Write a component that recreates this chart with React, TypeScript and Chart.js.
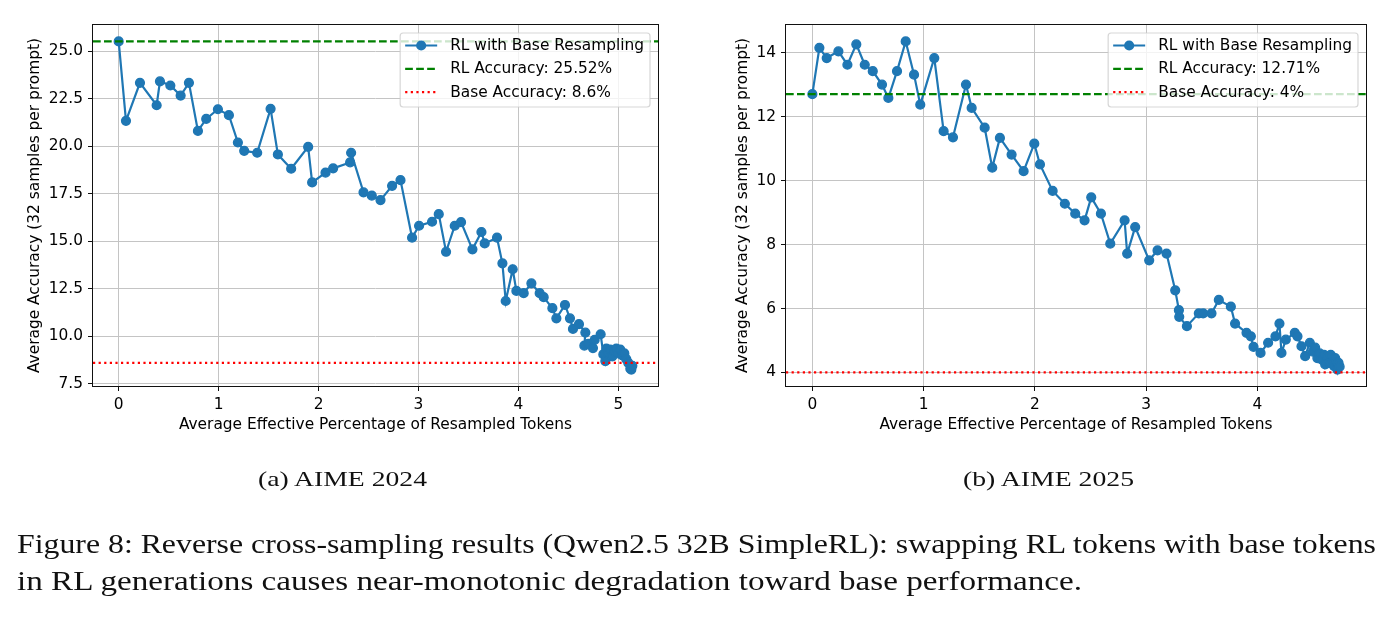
import { useEffect, useRef } from "react";
import { Chart, registerables } from "chart.js";

Chart.register(...registerables);

const SERIES_LABEL = "RL with Base Resampling";
const X_TITLE = "Average Effective Percentage of Resampled Tokens";
const Y_TITLE = "Average Accuracy (32 samples per prompt)";

// (a) AIME 2024
const X_2024 = [
  0, 0.073, 0.213, 0.38, 0.413, 0.517, 0.62, 0.703, 0.793, 0.876, 0.993, 1.103,
  1.193, 1.256, 1.386, 1.52, 1.593, 1.726, 1.896, 1.936, 2.07, 2.146, 2.316, 2.326,
  2.45, 2.533, 2.62, 2.736, 2.82, 2.936, 3.006, 3.136, 3.203, 3.276, 3.363, 3.426,
  3.54, 3.63, 3.663, 3.786, 3.84, 3.873, 3.943, 3.98, 4.053, 4.13, 4.213, 4.253,
  4.34, 4.38, 4.466, 4.516, 4.546, 4.606, 4.67, 4.66, 4.7, 4.746, 4.763, 4.823,
  4.85, 4.87, 4.88, 4.9, 4.92, 4.94, 4.96, 4.98, 5.0, 5.02, 5.04, 5.06, 5.08, 5.1,
  5.12, 5.13, 5.14,
];
const ACC_2024 = [
  25.52, 21.34, 23.34, 22.16, 23.42, 23.2, 22.67, 23.34, 20.81, 21.44, 21.95, 21.64,
  20.2, 19.76, 19.66, 21.97, 19.57, 18.82, 19.97, 18.1, 18.61, 18.84, 19.15, 19.66,
  17.58, 17.4, 17.17, 17.92, 18.22, 15.19, 15.82, 16.03, 16.43, 14.45, 15.82, 16.01,
  14.58, 15.49, 14.89, 15.19, 13.84, 11.86, 13.53, 12.39, 12.27, 12.79, 12.27, 12.06,
  11.48, 10.95, 11.65, 10.95, 10.39, 10.64, 10.2, 9.51, 9.6, 9.38, 9.81, 10.11,
  9.05, 8.7, 9.35, 9.1, 9.3, 8.95, 9.2, 9.35, 9.1, 9.3, 9.0, 9.1, 8.8, 8.6,
  8.3, 8.25, 8.45,
];
const RL_ACC_2024 = 25.52;
const BASE_ACC_2024 = 8.6;
const RL_LABEL_2024 = "RL Accuracy: 25.52%";
const BASE_LABEL_2024 = "Base Accuracy: 8.6%";
const X_TICKS_2024 = [0, 1, 2, 3, 4, 5];
const Y_TICKS_2024 = [7.5, 10, 12.5, 15, 17.5, 20, 22.5, 25];

// (b) AIME 2025
const X_2025 = [
  0, 0.063, 0.129, 0.234, 0.315, 0.395, 0.471, 0.543, 0.626, 0.683, 0.761, 0.839,
  0.914, 0.97, 1.096, 1.18, 1.264, 1.381, 1.432, 1.549, 1.617, 1.686, 1.791, 1.899,
  1.995, 2.046, 2.16, 2.27, 2.363, 2.447, 2.507, 2.594, 2.678, 2.807, 2.83, 2.902,
  3.028, 3.103, 3.184, 3.262, 3.295, 3.298, 3.367, 3.474, 3.513, 3.588, 3.654, 3.762,
  3.8, 3.903, 3.942, 3.966, 4.029, 4.097, 4.163, 4.199, 4.217, 4.256, 4.337, 4.361,
  4.397, 4.43, 4.472, 4.5, 4.52, 4.54, 4.56, 4.58, 4.6, 4.61, 4.63, 4.65, 4.66,
  4.68, 4.69, 4.7, 4.71, 4.72, 4.73, 4.74,
];
const ACC_2025 = [
  12.71, 14.16, 13.84, 14.05, 13.63, 14.27, 13.63, 13.43, 13.01, 12.59, 13.43, 14.36,
  13.32, 12.38, 13.84, 11.55, 11.36, 13.01, 12.28, 11.66, 10.41, 11.34, 10.82, 10.3,
  11.16, 10.51, 9.68, 9.28, 8.97, 8.76, 9.48, 8.97, 8.03, 8.76, 7.72, 8.55,
  7.51, 7.82, 7.72, 6.57, 5.95, 5.74, 5.45, 5.85, 5.85, 5.85, 6.27, 6.06,
  5.53, 5.24, 5.13, 4.8, 4.61, 4.93, 5.13, 5.53, 4.61, 5.03, 5.24, 5.13,
  4.82, 4.51, 4.93, 4.65, 4.78, 4.45, 4.6, 4.4, 4.55, 4.25, 4.5, 4.3, 4.55,
  4.35, 4.2, 4.45, 4.3, 4.09, 4.3, 4.18,
];
const RL_ACC_2025 = 12.71;
const BASE_ACC_2025 = 4;
const RL_LABEL_2025 = "RL Accuracy: 12.71%";
const BASE_LABEL_2025 = "Base Accuracy: 4%";
const X_TICKS_2025 = [0, 1, 2, 3, 4];
const Y_TICKS_2025 = [4, 6, 8, 10, 12, 14];

const SUBCAPTION_A = "(a) AIME 2024";
const SUBCAPTION_B = "(b) AIME 2025";
const CAPTION_LINE_1 =
  "Figure 8: Reverse cross-sampling results (Qwen2.5 32B SimpleRL): swapping RL tokens with base tokens";
const CAPTION_LINE_2 =
  "in RL generations causes near-monotonic degradation toward base performance.";

const BLUE = "#1f77b4";
const GREEN = "#008000";
const RED = "#ff0000";
const FONT = "'DejaVu Sans', sans-serif";
const FONT_SIZE = 15.4;

// autoscale with a 5% margin on each side
function paddedRange(values: number[]): [number, number] {
  const lo = Math.min(...values);
  const hi = Math.max(...values);
  const m = (hi - lo) * 0.05;
  return [lo - m, hi + m];
}

// axes frame + boxed legend in the upper-right corner of the plot area
const frameLegendPlugin = {
  id: "frameLegend",
  afterDraw(chart: any) {
    const { ctx, chartArea: a } = chart;
    ctx.save();
    ctx.strokeStyle = "#111";
    ctx.lineWidth = 1;
    ctx.setLineDash([]);
    ctx.strokeRect(a.left - 0.5, a.top - 0.5, a.right - a.left + 1, a.bottom - a.top + 1);

    const ds = chart.data.datasets as any[];
    ctx.font = `${FONT_SIZE}px ${FONT}`;
    const tw = Math.max(...ds.map((d) => ctx.measureText(d.label).width));
    const padL = 5;
    const hLen = 32;
    const hGap = 13;
    const padR = 6;
    const rowH = 23.3;
    const padT = 12.5;
    const w = padL + hLen + hGap + tw + padR;
    const h = 74;
    const x0 = a.right - 8 - w;
    const y0 = a.top + 8;
    ctx.beginPath();
    ctx.roundRect(x0, y0, w, h, 3);
    ctx.fillStyle = "rgba(255,255,255,0.8)";
    ctx.fill();
    ctx.strokeStyle = "rgba(204,204,204,0.8)";
    ctx.lineWidth = 1.2;
    ctx.stroke();

    ds.forEach((d, i) => {
      const cy = y0 + padT + i * rowH;
      const hx = x0 + padL;
      ctx.beginPath();
      ctx.setLineDash(d.borderDash || []);
      ctx.strokeStyle = d.borderColor;
      ctx.lineWidth = d.borderWidth;
      ctx.moveTo(hx, cy);
      ctx.lineTo(hx + hLen, cy);
      ctx.stroke();
      ctx.setLineDash([]);
      if (d.pointRadius > 0) {
        ctx.beginPath();
        ctx.arc(hx + hLen / 2, cy, d.pointRadius + d.pointBorderWidth / 2, 0, Math.PI * 2);
        ctx.fillStyle = d.borderColor;
        ctx.fill();
      }
      ctx.fillStyle = "#000";
      ctx.textBaseline = "middle";
      ctx.textAlign = "left";
      ctx.fillText(d.label, hx + hLen + hGap, cy + 0.5);
    });
    ctx.restore();
  },
};

type PanelProps = {
  xs: number[];
  ys: number[];
  rl: number;
  base: number;
  rlLabel: string;
  baseLabel: string;
  xTicks: number[];
  yTicks: number[];
  yFmt: (v: number) => string;
  width: number;
  height: number;
  left: number;
  yAxisWidth: number;
  padRight: number;
  yTitlePad: number;
};

function Panel(p: PanelProps) {
  const ref = useRef<HTMLCanvasElement | null>(null);
  useEffect(() => {
    if (!ref.current) return;
    const xr = paddedRange(p.xs);
    const yr = paddedRange(p.ys);
    const tickFont = { family: FONT, size: FONT_SIZE };
    const grid = {
      color: "#c4c4c4",
      lineWidth: 1,
      tickLength: 5,
      tickColor: "#111",
      tickWidth: 1,
    };
    const chart = new Chart(ref.current, {
      type: "line",
      data: {
        datasets: [
          {
            label: SERIES_LABEL,
            data: p.xs.map((x, i) => ({ x, y: p.ys[i] })),
            borderColor: BLUE,
            backgroundColor: BLUE,
            borderWidth: 2.2,
            pointRadius: 4.4,
            pointBorderWidth: 1.4,
            pointBackgroundColor: BLUE,
            pointBorderColor: BLUE,
            tension: 0,
            order: 1,
          },
          {
            label: p.rlLabel,
            data: [
              { x: xr[0], y: p.rl },
              { x: xr[1], y: p.rl },
            ],
            borderColor: GREEN,
            borderWidth: 2.2,
            borderDash: [7.7, 3.3],
            pointRadius: 0,
            pointBorderWidth: 0,
            order: 0,
          },
          {
            label: p.baseLabel,
            data: [
              { x: xr[0], y: p.base },
              { x: xr[1], y: p.base },
            ],
            borderColor: RED,
            borderWidth: 2.2,
            borderDash: [2.2, 3.4],
            pointRadius: 0,
            pointBorderWidth: 0,
            order: 0,
          },
        ] as any,
      },
      options: {
        animation: false,
        responsive: false,
        devicePixelRatio: 1,
        events: [],
        layout: { padding: { left: 0, top: 25, right: p.padRight, bottom: 0 } },
        plugins: {
          legend: { display: false },
          tooltip: { enabled: false },
        },
        scales: {
          x: {
            type: "linear",
            min: xr[0],
            max: xr[1],
            afterBuildTicks: (s: any) => {
              s.ticks = p.xTicks.map((v) => ({ value: v }));
            },
            afterFit: (s: any) => {
              s.height = 59;
            },
            ticks: {
              font: tickFont,
              color: "#000",
              padding: 5,
              maxRotation: 0,
              autoSkip: false,
              callback: (v: any) => String(v),
            },
            grid,
            border: { display: false },
            title: {
              display: true,
              text: X_TITLE,
              font: tickFont,
              color: "#000",
              padding: { top: 0, bottom: 10.8 },
            },
          },
          y: {
            type: "linear",
            min: yr[0],
            max: yr[1],
            afterBuildTicks: (s: any) => {
              s.ticks = p.yTicks.map((v) => ({ value: v }));
            },
            afterFit: (s: any) => {
              s.width = p.yAxisWidth;
            },
            ticks: {
              font: tickFont,
              color: "#000",
              padding: 5,
              autoSkip: false,
              callback: (v: any) => p.yFmt(Number(v)),
            },
            grid,
            border: { display: false },
            title: {
              display: true,
              text: Y_TITLE,
              font: tickFont,
              color: "#000",
              padding: { top: p.yTitlePad, bottom: 0 },
            },
          },
        },
      } as any,
      plugins: [frameLegendPlugin],
    });
    return () => chart.destroy();
  }, []);
  return (
    <canvas
      ref={ref}
      width={p.width}
      height={p.height}
      style={{ position: "absolute", left: p.left, top: 0, width: p.width, height: p.height }}
    />
  );
}

export default function App() {
  const serif = "'Liberation Serif', 'DejaVu Serif', serif";
  return (
    <div
      style={{
        position: "absolute",
        left: 0,
        top: 0,
        width: 1392,
        height: 619,
        background: "#fff",
        overflow: "hidden",
      }}
    >
      <Panel
        xs={X_2024}
        ys={ACC_2024}
        rl={RL_ACC_2024}
        base={BASE_ACC_2024}
        rlLabel={RL_LABEL_2024}
        baseLabel={BASE_LABEL_2024}
        xTicks={X_TICKS_2024}
        yTicks={Y_TICKS_2024}
        yFmt={(v) => v.toFixed(1)}
        width={680}
        height={445}
        left={0}
        yAxisWidth={93}
        padRight={22}
        yTitlePad={25.3}
      />
      <Panel
        xs={X_2025}
        ys={ACC_2025}
        rl={RL_ACC_2025}
        base={BASE_ACC_2025}
        rlLabel={RL_LABEL_2025}
        baseLabel={BASE_LABEL_2025}
        xTicks={X_TICKS_2025}
        yTicks={Y_TICKS_2025}
        yFmt={(v) => String(v)}
        width={696}
        height={445}
        left={696}
        yAxisWidth={90}
        padRight={26}
        yTitlePad={37.3}
      />
      <svg
        width={1392}
        height={619}
        style={{ position: "absolute", left: 0, top: 0, pointerEvents: "none" }}
      >
        <g fontFamily={serif} fill="#111">
          <text x={258} y={486} fontSize={22} textLength={169} lengthAdjust="spacingAndGlyphs">
            {SUBCAPTION_A}
          </text>
          <text x={963} y={486} fontSize={22} textLength={171} lengthAdjust="spacingAndGlyphs">
            {SUBCAPTION_B}
          </text>
          <text x={17} y={553} fontSize={27} textLength={1359} lengthAdjust="spacingAndGlyphs">
            {CAPTION_LINE_1}
          </text>
          <text x={17} y={590} fontSize={27} textLength={1065} lengthAdjust="spacingAndGlyphs">
            {CAPTION_LINE_2}
          </text>
        </g>
      </svg>
    </div>
  );
}
